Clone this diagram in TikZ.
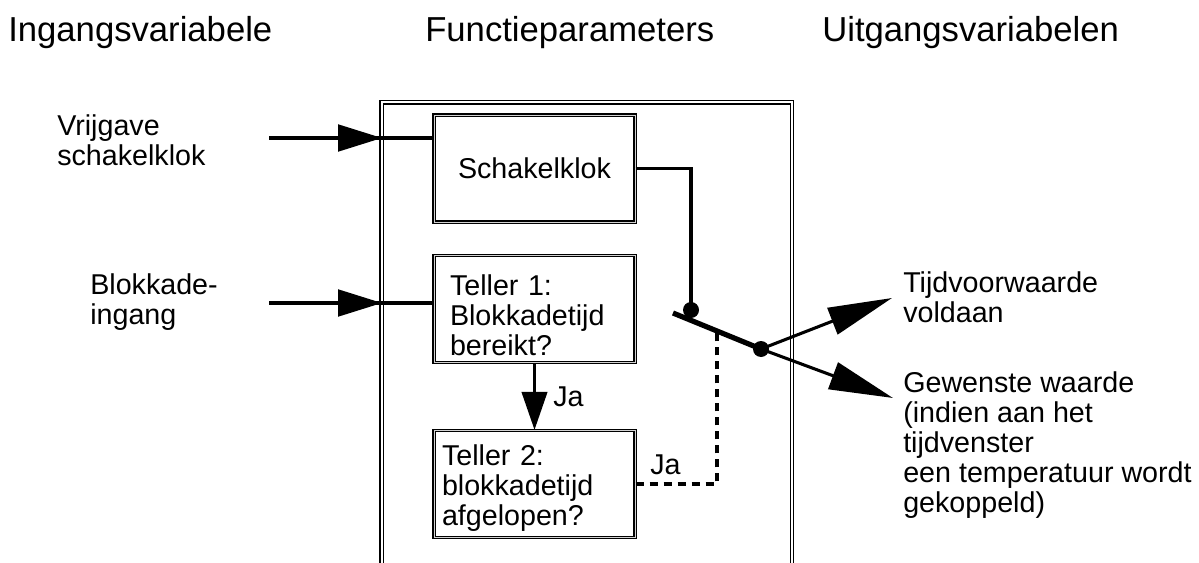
\documentclass[tikz,border=0pt]{standalone}
\usepackage{fontspec}
\setmainfont{Liberation Sans}
\usetikzlibrary{arrows.meta}
\begin{document}
\begin{tikzpicture}[x=0.75pt,y=-0.75pt,
  titletext/.style={font=\fontsize{26}{30}\selectfont, anchor=base west, inner sep=0pt},
  lbl/.style={font=\fontsize{21.5}{22.5}\selectfont, align=left, anchor=west, inner sep=0pt},
  blk/.style={draw, double=gray!35, double distance=0.7pt, line width=0.9pt,
    minimum width=150.75pt, minimum height=80.25pt, inner ysep=0pt,
    font=\fontsize{21.5}{22.5}\selectfont, align=left},
  frame/.style={draw, double, double distance=1.5pt, line width=0.85pt},
  conn/.style={line width=2.3pt},
  intip/.style={-{Triangle[length=33pt,width=20pt]}},
  jatip/.style={-{Triangle[length=28.5pt,width=19pt]}},
  outtip/.style={-{Triangle[length=48pt,width=21pt]}},
  dotstyle/.style={fill=black}
]
\useasboundingbox (0,0) rectangle (1199,563);

% titles
\node[titletext] (t-in) at (8,42) {Ingangsvariabele};
\node[titletext] (t-fn) at (425,42) {Functieparameters};
\node[titletext] (t-out) at (822,42) {Uitgangsvariabelen};

% frame
\draw[frame] (381.5,563) -- (381.5,102.5) -- (792,102.5) -- (792,563);

% boxes
\node[blk, align=center] (schak) at (534.5,168.5) {Schakelklok};
\node[blk, text width=126.75pt, inner xsep=12pt] (t1) at (534.5,309)
  {\rule{0pt}{24.6pt}Teller 1:\\Blokkadetijd\\bereikt?};
\node[blk, text width=138.75pt, inner xsep=6pt] (t2) at (534.5,484)
  {\rule{0pt}{21.6pt}Teller 2:\\blokkadetijd\\afgelopen?};

% left labels
\node[lbl] (vrij) at (57,140) {Vrijgave\\schakelklok};
\node[lbl] (blok) at (90,302) {Blokkade-\\ingang};

% right labels
\node[lbl] (tijd) at (903,297) {Tijdvoorwaarde\\voldaan};
\node[lbl] (gew) at (903,445) {Gewenste waarde\\(indien aan het\\tijdvenster\\een temperatuur wordt\\gekoppeld)};

% Ja labels
\node[lbl] (ja1) at (553,397) {Ja};
\node[lbl] (ja2) at (650,465) {Ja};

% coordinates
\coordinate (in1) at (269,138);
\coordinate (fl1) at (382,138);
\coordinate (in2) at (269,303);
\coordinate (fl2) at (382,303);
\coordinate (dot1) at (691,310);
\coordinate (levA) at (673,313);
\coordinate (pivot) at (761,349);
\coordinate (dashend) at (717,332);
\coordinate (tip1) at (892,298);
\coordinate (tip2) at (893,398);

% inputs
\draw[conn] (in1) -- (in1 -| schak.west);
\draw[conn, intip] (in1) -- (fl1);
\draw[conn] (in2) -- (in2 -| t1.west);
\draw[conn, intip] (in2) -- (fl2);

% schakelklok to switch
\draw[conn] (schak.east) -| (dot1);
\fill[dotstyle] (dot1) circle[radius=6pt];

% lever
\draw[line width=3.9pt] (levA) -- (pivot);
\fill[dotstyle] (pivot) circle[radius=6pt];

% Ja arrow
\draw[conn, jatip] (t1.south) -- (t2.north);

% dashed
\draw[conn, dash pattern=on 6pt off 4.5pt] (t2.east) -| (dashend);

% outputs
\draw[conn, outtip] (pivot) -- (tip1);
\draw[conn, outtip] (pivot) -- (tip2);
\end{tikzpicture}
\end{document}
